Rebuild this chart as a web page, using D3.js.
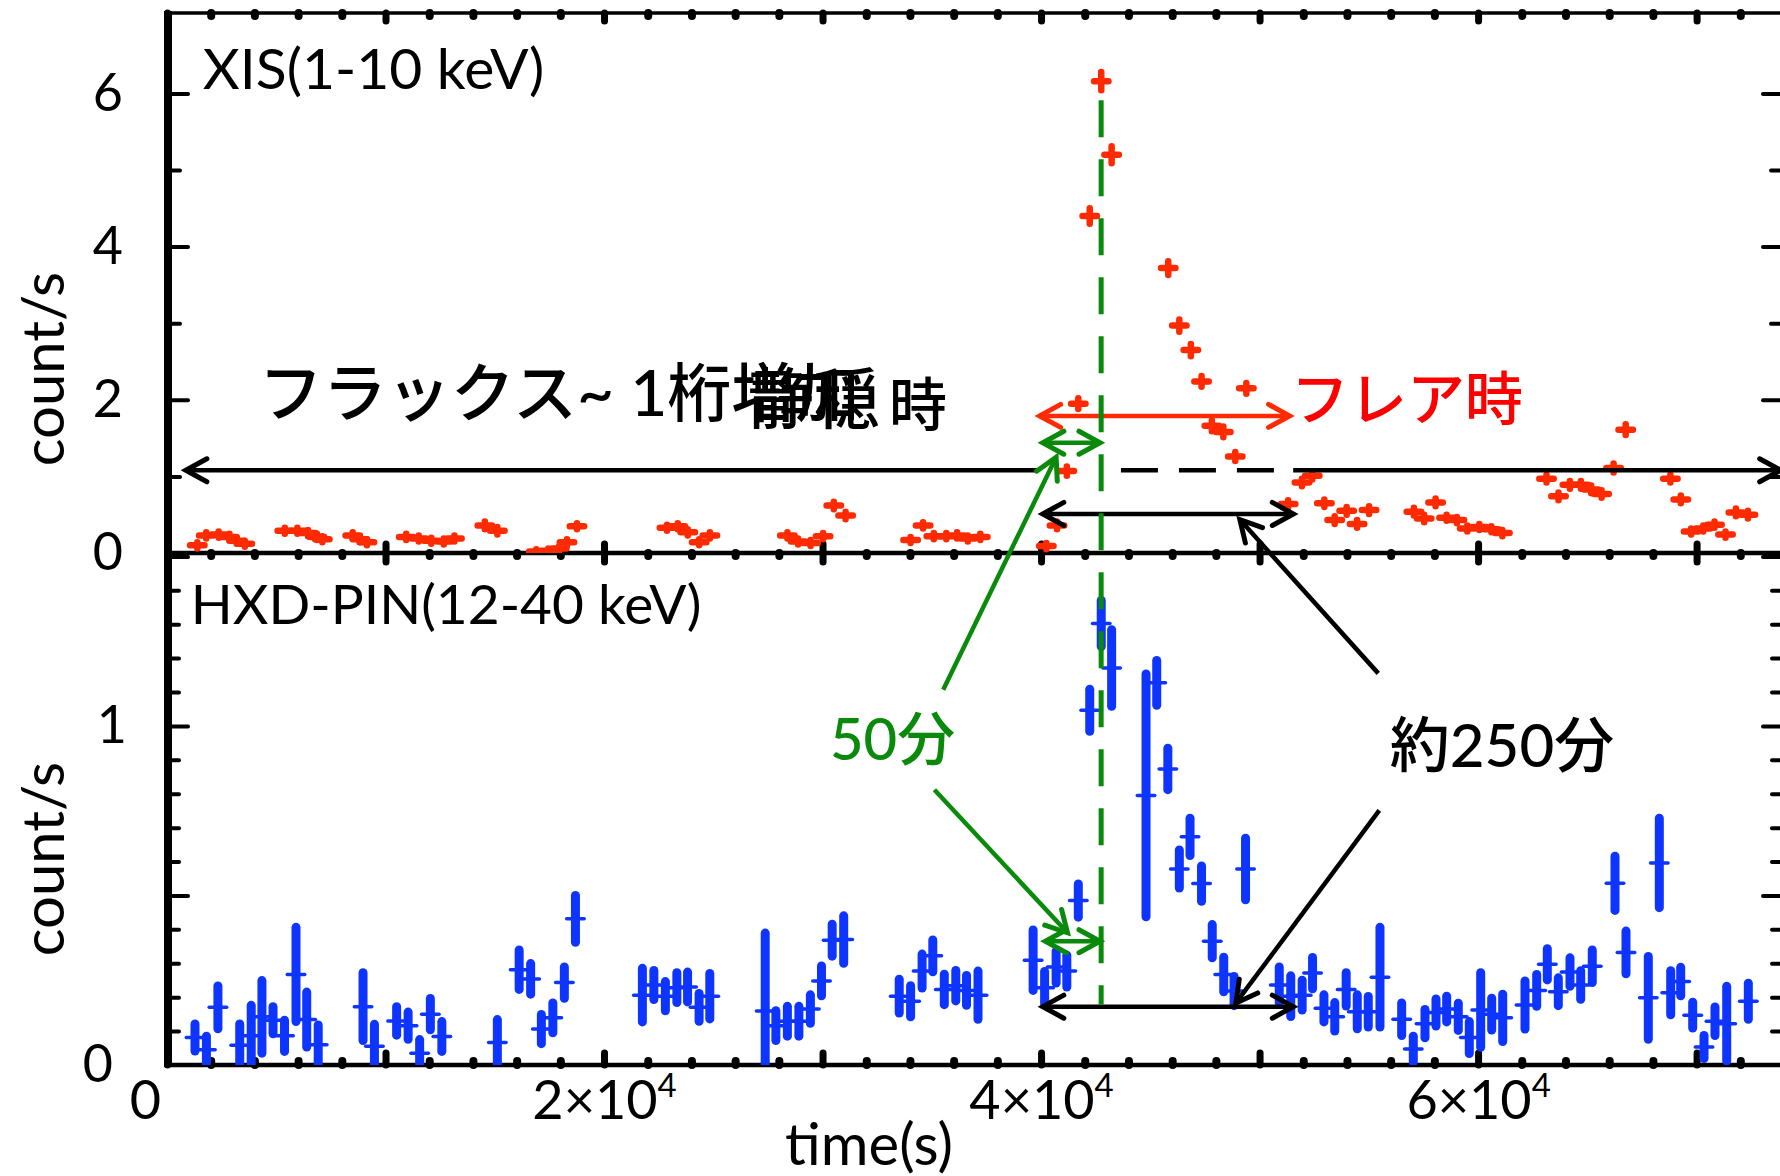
<!DOCTYPE html>
<html>
<head>
<meta charset="utf-8">
<script src="https://cdn.jsdelivr.net/npm/d3@7"></script>
<style>
  body { margin: 0; background: #fff; }
  svg { display: block; }
</style>
</head>
<body>
<div id="chart"></div>
<script>
// XIS (1-10 keV) light curve: time (s), rate (count/s), 1-sigma error
var xisTime = [1387, 1795, 2367, 2858, 3186, 3561, 5392, 5964, 6454, 6862, 7108, 8499, 8824, 9150,
  10948, 11521, 12093, 12665, 13155, 14546, 15118, 16900, 17450, 17950, 18304, 18762,
  22881, 23375, 23832, 24354, 24844, 28391, 28881, 29453, 30025, 30515, 31055,
  34030, 34602, 35092, 35664, 36154, 36648, 37220, 40241, 40731, 41179, 41705, 42228,
  42755, 43230, 45821, 46328, 46855, 47345, 47816, 48342, 48887, 49395,
  51308, 51940, 52411, 52965, 53437, 53986, 54462, 55011, 57062, 57533, 58055, 58558,
  59030, 59506, 60055, 60609, 61112, 63131, 63680, 64202, 64705, 65176, 65652, 66202,
  66755, 68801, 69277, 69749, 70303, 70820, 71323, 71799, 72349];
var xisRate = [0.10, 0.23, 0.24, 0.21, 0.16, 0.12, 0.29, 0.29, 0.26, 0.21, 0.18, 0.23, 0.18, 0.14,
  0.21, 0.19, 0.16, 0.15, 0.19, 0.36, 0.29, 0.02, 0.03, 0.06, 0.14, 0.35,
  0.33, 0.35, 0.27, 0.14, 0.23, 0.23, 0.15, 0.13, 0.22, 0.62, 0.49,
  0.17, 0.36, 0.22, 0.22, 0.23, 0.19, 0.21, 0.09, 0.36, 1.07, 1.95, 4.40,
  6.16, 5.20, 3.72, 2.97, 2.65, 2.24, 1.66, 1.58, 1.26, 2.15,
  0.64, 0.92, 1.01, 0.65, 0.43, 0.55, 0.38, 0.56, 0.54, 0.45, 0.66, 0.46,
  0.43, 0.32, 0.34, 0.31, 0.26, 0.97, 0.74, 0.89, 0.89, 0.83, 0.77, 1.11,
  1.61, 0.97, 0.70, 0.28, 0.32, 0.37, 0.24, 0.53, 0.50];
var xisErr = [0.04, 0.04, 0.04, 0.04, 0.04, 0.04, 0.04, 0.04, 0.04, 0.04, 0.04, 0.04, 0.04, 0.04,
  0.04, 0.04, 0.04, 0.04, 0.04, 0.05, 0.05, 0.03, 0.03, 0.03, 0.04, 0.04,
  0.04, 0.04, 0.04, 0.04, 0.04, 0.04, 0.04, 0.04, 0.04, 0.05, 0.05,
  0.04, 0.04, 0.04, 0.04, 0.04, 0.04, 0.04, 0.04, 0.05, 0.06, 0.07, 0.10,
  0.12, 0.11, 0.09, 0.08, 0.08, 0.07, 0.07, 0.07, 0.06, 0.07,
  0.05, 0.05, 0.05, 0.05, 0.05, 0.05, 0.05, 0.05, 0.05, 0.05, 0.05, 0.04,
  0.04, 0.04, 0.04, 0.04, 0.04, 0.05, 0.05, 0.05, 0.05, 0.05, 0.05, 0.06,
  0.07, 0.05, 0.05, 0.04, 0.04, 0.04, 0.04, 0.05, 0.05];

// HXD-PIN (12-40 keV) light curve
var pinTime = [1281, 1804, 2330, 3328, 3854, 4344, 4852, 5378, 5904, 6394, 6920, 8971, 9493,
  10509, 11035, 11562, 12052, 12578, 15118, 16116, 16642, 17132, 17658, 18184, 18692,
  21755, 22281, 22807, 23333, 23823, 24350, 24840, 27376, 27865, 28391, 28917, 29443,
  29952, 30441, 30968, 33509, 34030, 34556, 35046, 35572, 36098, 36589, 37115,
  39637, 40163, 40690, 41179, 41705, 42228, 42754, 43230, 44804, 45294, 45802, 46328,
  46818, 47344, 47834, 48360, 48833, 49358, 50901, 51427, 51949, 52425, 52946, 53441,
  53963, 54471, 54974, 55510, 56503, 57035, 57570, 58074, 58563, 59094, 59598, 60119,
  60623, 61127, 62147, 62682, 63168, 63671, 64206, 64696, 65226, 66266, 66769, 67790,
  68294, 68815, 69273, 69822, 70340, 70842, 71378, 72367];
var pinRate = [0.081, 0.045, 0.170, 0.058, 0.086, 0.142, 0.132, 0.086, 0.267, 0.134, 0.060, 0.172, 0.055,
  0.130, 0.116, 0.035, 0.150, 0.084, 0.066, 0.281, 0.254, 0.106, 0.139, 0.243, 0.431,
  0.206, 0.236, 0.203, 0.228, 0.230, 0.170, 0.203, 0.159, 0.116, 0.129, 0.129, 0.165,
  0.248, 0.368, 0.370, 0.203, 0.188, 0.277, 0.322, 0.223, 0.234, 0.220, 0.206,
  0.309, 0.228, 0.289, 0.277, 0.485, 1.046, 1.302, 1.171, 0.795, 1.127, 0.873, 0.578,
  0.673, 0.535, 0.365, 0.267, 0.218, 0.578, 0.236, 0.203, 0.206, 0.271, 0.167, 0.142,
  0.223, 0.157, 0.157, 0.259, 0.135, 0.047, 0.122, 0.155, 0.165, 0.142, 0.081, 0.162,
  0.150, 0.139, 0.177, 0.220, 0.297, 0.216, 0.274, 0.236, 0.291, 0.536, 0.332, 0.198,
  0.596, 0.213, 0.246, 0.147, 0.053, 0.129, 0.122, 0.188];
var pinErr = [0.040, 0.040, 0.063, 0.063, 0.090, 0.107, 0.040, 0.046, 0.139, 0.081, 0.058, 0.100, 0.065,
  0.042, 0.040, 0.040, 0.046, 0.044, 0.068, 0.058, 0.045, 0.043, 0.044, 0.046, 0.069,
  0.079, 0.043, 0.043, 0.044, 0.044, 0.041, 0.067, 0.230, 0.044, 0.044, 0.044, 0.042,
  0.044, 0.047, 0.070, 0.050, 0.046, 0.050, 0.047, 0.045, 0.045, 0.044, 0.071,
  0.089, 0.048, 0.047, 0.047, 0.049, 0.062, 0.068, 0.113, 0.358, 0.066, 0.061, 0.056,
  0.055, 0.052, 0.049, 0.051, 0.043, 0.091, 0.053, 0.060, 0.044, 0.046, 0.040, 0.042,
  0.049, 0.050, 0.045, 0.147, 0.048, 0.038, 0.042, 0.040, 0.038, 0.040, 0.047, 0.110,
  0.047, 0.070, 0.071, 0.047, 0.046, 0.041, 0.042, 0.042, 0.048, 0.080, 0.063, 0.122,
  0.132, 0.065, 0.042, 0.038, 0.034, 0.042, 0.110, 0.053];

// tick labels
var xTickValues = [0, 20000, 40000, 60000];
var xTickLabels = ['0', '2×10', '4×10', '6×10'];
var xTickExp = ['', '4', '4', '4'];
var xisTickValues = [0, 2, 4, 6];
var xisTickLabels = ['0', '2', '4', '6'];
var pinTickValues = [0, 1];
var pinTickLabels = ['0', '1'];

var w = 1780, h = 1176;
var font = 'Lato, "Noto Sans CJK JP", sans-serif';
var red = '#ff2a00', blue = '#0d35ff', green = '#0a8a0a';

var x = d3.scaleLinear().domain([0, 74000]).range([167, 1784]);
var yTop = d3.scaleLinear().domain([0, 7.05]).range([553, 13]);
var yBot = d3.scaleLinear().domain([0, 1.51]).range([1065, 553]);

var svg = d3.select('#chart').append('svg')
  .attr('width', w)
  .attr('height', h)
  .style('background', '#fff');

var defs = svg.append('defs');
defs.append('clipPath').attr('id', 'clipTop').append('rect')
  .attr('x', x(0)).attr('y', yTop(7.05)).attr('width', x(74000) - x(0)).attr('height', yTop(0) - yTop(7.05));
defs.append('clipPath').attr('id', 'clipBot').append('rect')
  .attr('x', x(0)).attr('y', yBot(1.51)).attr('width', x(74000) - x(0)).attr('height', yBot(0) - yBot(1.51));

// ---- ticks ----
function ticks(axis, tx, ty, values, size, width, fmt) {
  var g = svg.append('g').attr('transform', 'translate(' + tx + ',' + ty + ')')
    .call(axis.tickValues(values).tickSizeInner(size).tickSizeOuter(0)
      .tickFormat(fmt || function () { return ''; }));
  g.select('.domain').remove();
  g.selectAll('.tick line').attr('stroke', '#000').attr('stroke-width', width).attr('stroke-linecap', 'round');
  g.attr('font-family', font).attr('fill', '#000');
  return g;
}

var xMajor = d3.range(0, 74001, 10000);
var xMinor = d3.range(0, 74001, 2000).filter(function (d) { return d % 10000 !== 0; });

// top panel
ticks(d3.axisTop(x), 0, yTop(7.05), xMajor, -8, 7);
ticks(d3.axisTop(x), 0, yTop(7.05), xMinor, -3, 8);
ticks(d3.axisBottom(x), 0, yTop(0), xMajor, -9, 7);
ticks(d3.axisLeft(yTop), x(0), 0, [1, 3, 5], -13, 4);
ticks(d3.axisRight(yTop), x(74000), 0, [1, 3, 5], -13, 4);
ticks(d3.axisRight(yTop), x(74000), 0, [2, 4, 6], -21, 4);
var topLab = ticks(d3.axisLeft(yTop), x(0), 0, xisTickValues, -21, 4,
  function (d, i) { return xisTickLabels[i]; }).attr('font-size', 52);
topLab.selectAll('.tick').filter(function (d) { return d === 0; }).select('line').remove();
topLab.selectAll('text').attr('x', -44);

// bottom panel
ticks(d3.axisBottom(x), 0, yBot(1.51), xMajor, 9, 7);
ticks(d3.axisBottom(x), 0, yBot(1.51), xMinor, 3, 8);
ticks(d3.axisBottom(x), 0, yBot(0), xMinor, -4, 8);
var pinMinor = d3.range(1, 15).map(function (d) { return d / 10; }).filter(function (d) { return d !== 0.5 && d !== 1; });
ticks(d3.axisLeft(yBot), x(0), 0, pinMinor, -12, 4);
ticks(d3.axisRight(yBot), x(74000), 0, pinMinor, -12, 4);
ticks(d3.axisLeft(yBot), x(0), 0, [0.5, 1, 1.5], -21, 4);
ticks(d3.axisRight(yBot), x(74000), 0, [0.5, 1, 1.5], -21, 4);
var botLab = ticks(d3.axisLeft(yBot), x(0), 0, pinTickValues, 0, 0,
  function (d, i) { return pinTickLabels[i]; }).attr('font-size', 52);
botLab.selectAll('text').attr('x', function (d) { return d === 0 ? -54 : -40; });

ticks(d3.axisBottom(x), 0, yBot(0), xMajor, -12, 7);
var xLab = ticks(d3.axisBottom(x), 0, yBot(0), xTickValues, 0, 0,
  function (d, i) { return xTickLabels[i]; })
  .attr('font-size', 54);
xLab.selectAll('text').attr('y', 16)
  .each(function (d, i) {
    if (xTickExp[i]) {
      d3.select(this).append('tspan').attr('dy', -22).attr('font-size', 33).text(xTickExp[i]);
    } else {
      d3.select(this).attr('dx', -22);
    }
  });

// ---- frame ----
var frame = svg.append('g').attr('stroke', '#000').attr('fill', 'none');
frame.append('line').attr('x1', x(0)).attr('x2', x(74000)).attr('y1', yTop(7.05)).attr('y2', yTop(7.05)).attr('stroke-width', 3.5);
frame.append('line').attr('x1', x(0)).attr('x2', x(74000)).attr('y1', yTop(0)).attr('y2', yTop(0)).attr('stroke-width', 4.5);
frame.append('line').attr('x1', x(0)).attr('x2', x(74000)).attr('y1', yBot(0)).attr('y2', yBot(0)).attr('stroke-width', 4.5);
frame.append('line').attr('x1', x(0) + 1).attr('x2', x(0) + 1).attr('y1', yTop(7.05) - 2).attr('y2', yBot(0) + 2).attr('stroke-width', 8);
frame.append('line').attr('x1', x(74000)).attr('x2', x(74000)).attr('y1', yTop(7.05)).attr('y2', yBot(0)).attr('stroke-width', 4);

// ---- data ----
var xis = xisTime.map(function (t, i) { return { t: t, v: xisRate[i], e: xisErr[i] }; });
var pin = pinTime.map(function (t, i) { return { t: t, v: pinRate[i], e: pinErr[i] }; });

svg.append('g').attr('clip-path', 'url(#clipTop)')
  .selectAll('path').data(xis).enter().append('path')
  .attr('d', function (d) {
    return 'M' + x(d.t - 330) + ',' + yTop(d.v) + 'H' + x(d.t + 330) +
      'M' + x(d.t) + ',' + yTop(d.v - d.e) + 'V' + yTop(d.v + d.e);
  })
  .attr('fill', 'none')
  .attr('stroke', red)
  .attr('stroke-width', 6.5)
  .attr('stroke-linecap', 'round');

var pinG = svg.append('g').attr('clip-path', 'url(#clipBot)');
pinG.selectAll('line.err').data(pin).enter().append('line')
  .attr('class', 'err')
  .attr('x1', function (d) { return x(d.t); })
  .attr('x2', function (d) { return x(d.t); })
  .attr('y1', function (d) { return yBot(d.v - d.e); })
  .attr('y2', function (d) { return yBot(d.v + d.e); })
  .attr('stroke', blue)
  .attr('stroke-width', 9)
  .attr('stroke-linecap', 'round');
pinG.selectAll('line.bin').data(pin).enter().append('line')
  .attr('class', 'bin')
  .attr('x1', function (d) { return x(d.t - 400); })
  .attr('x2', function (d) { return x(d.t + 400); })
  .attr('y1', function (d) { return yBot(d.v); })
  .attr('y2', function (d) { return yBot(d.v); })
  .attr('stroke', blue)
  .attr('stroke-width', 3.5)
  .attr('stroke-linecap', 'round');

// ---- annotations ----
var ann = svg.append('g');
function P(t, v, panel) { return [x(t), panel === 'bot' ? yBot(v) : yTop(v)]; }
function seg(a, b, color, dash) {
  var l = ann.append('line')
    .attr('x1', a[0]).attr('y1', a[1]).attr('x2', b[0]).attr('y2', b[1])
    .attr('stroke', color).attr('stroke-width', 4.5);
  if (dash) l.attr('stroke-dasharray', dash);
}
function head(a, b, color) {
  var ang = Math.atan2(b[1] - a[1], b[0] - a[0]), L = 24, s = 0.5;
  var p1 = [b[0] - L * Math.cos(ang - s), b[1] - L * Math.sin(ang - s)];
  var p2 = [b[0] - L * Math.cos(ang + s), b[1] - L * Math.sin(ang + s)];
  ann.append('path').attr('d', 'M' + p1 + 'L' + b + 'L' + p2)
    .attr('fill', 'none').attr('stroke', color).attr('stroke-width', 5)
    .attr('stroke-linecap', 'round');
}
function both(a, b, color) { seg(a, b, color); head(a, b, color); head(b, a, color); }

// quiescent level
seg(P(860, 1.08), P(39811, 1.08), '#000');
seg(P(43655, 1.08), P(50658, 1.08), '#000', '37 21');
seg(P(51538, 1.08), P(73850, 1.08), '#000');
head(P(73850, 1.08), P(860, 1.08), '#000');
head(P(860, 1.08), P(73850, 1.08), '#000');

both(P(39935, 1.79), P(51373, 1.79), red);
both(P(40078, 1.44), P(42700, 1.44), green);
both(P(40078, 0.51), P(51546, 0.51), '#000');
both(P(40078, 0.172, 'bot'), P(51546, 0.172, 'bot'), '#000');
both(P(40195, 0.365, 'bot'), P(42700, 0.365, 'bot'), green);

// peak time
ann.append('line')
  .attr('x1', x(42750)).attr('x2', x(42750))
  .attr('y1', yTop(5.91)).attr('y2', yBot(0.178))
  .attr('stroke', green).attr('stroke-width', 5).attr('stroke-dasharray', '37 22');

// pointers
seg(P(35522, 1.107, 'bot'), P(40690, 1.25), green);
head(P(35522, 1.107, 'bot'), P(40690, 1.25), green);
seg(P(35119, 0.812, 'bot'), P(41211, 0.39, 'bot'), green);
head(P(35119, 0.812, 'bot'), P(41211, 0.39, 'bot'), green);
seg(P(55433, 1.155, 'bot'), P(49098, 0.436), '#000');
head(P(55433, 1.155, 'bot'), P(49098, 0.436), '#000');
seg(P(55478, 0.751, 'bot'), P(48918, 0.183, 'bot'), '#000');
head(P(55478, 0.751, 'bot'), P(48918, 0.183, 'bot'), '#000');

// texts
function note(str, p, size, color, weight) {
  return svg.append('text').attr('x', p[0]).attr('y', p[1])
    .attr('font-family', font).attr('font-size', size)
    .attr('font-weight', weight || 400).attr('fill', color || '#000').text(str);
}
note('XIS(1-10 keV)', P(1639, 6.057), 57);
note('HXD-PIN(12-40 keV)', P(1089, 1.301, 'bot'), 55);
note('フラックス~ 1桁増加', P(4202, 1.789), 64, '#000', 500);
note('静穏', P(26583, 1.697), 66, '#000', 500);
note('時', P(33040, 1.658), 58, '#000', 500);
note('フレア時', P(51437, 1.736), 58, '#ff0000', 500);
note('50分', P(30336, 0.90, 'bot'), 58, green, 500);
note('約250分', P(55960, 0.879, 'bot'), 60, '#000', 500);

// axis titles
svg.append('text').attr('transform', 'translate(64,369) rotate(-90)')
  .attr('text-anchor', 'middle').attr('font-family', font).attr('font-size', 58).text('count/s');
svg.append('text').attr('transform', 'translate(64,859) rotate(-90)')
  .attr('text-anchor', 'middle').attr('font-family', font).attr('font-size', 58).text('count/s');
svg.append('text').attr('x', 869).attr('y', 1165)
  .attr('text-anchor', 'middle').attr('font-family', font).attr('font-size', 58).text('time(s)');
</script>
</body>
</html>
